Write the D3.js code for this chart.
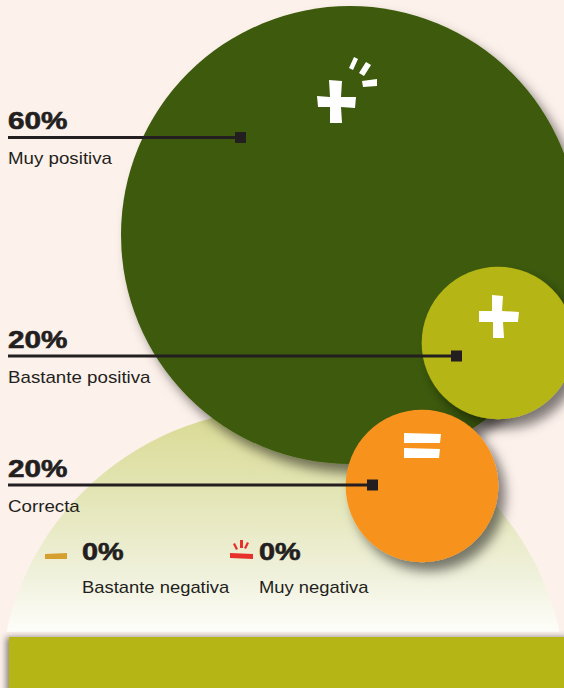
<!DOCTYPE html>
<html>
<head>
<meta charset="utf-8">
<script src="https://cdn.jsdelivr.net/npm/d3@7"></script>
<style>
  html, body { margin: 0; padding: 0; background: #fdf1eb; }
  svg { display: block; font-family: "Liberation Sans", Arial, sans-serif; }
</style>
</head>
<body>
<svg id="chart"></svg>
<script>
// Chart data
var categories = ["Muy positiva", "Bastante positiva", "Correcta", "Bastante negativa", "Muy negativa"];
var values = [60, 20, 20, 0, 0];
var valueLabels = ["60%", "20%", "20%", "0%", "0%"];

var width = 564, height = 688;
var svg = d3.select("#chart").attr("width", width).attr("height", height);

// Layout for the bubbles (only the non-zero categories get a bubble)
var bubbleLayout = [
    {cx: 350, cy: 235, color: "#3c5a0a", mx: 240.5, my: 137.5, labelY: 129},
    {cx: 498, cy: 343, color: "#b6b512", mx: 456.5, my: 356, labelY: 348},
    {cx: 422, cy: 486, color: "#f7931e", mx: 372.5, my: 485, labelY: 477}
];

var r = d3.scaleLinear().domain([0, 60]).range([0, 229]);

var defs = svg.append("defs");
var grad = defs.append("linearGradient").attr("id", "arcGrad")
    .attr("gradientUnits", "userSpaceOnUse")
    .attr("x1", 0).attr("y1", 410).attr("x2", 0).attr("y2", 632);
grad.append("stop").attr("offset", "0%").attr("stop-color", "#d9da92");
grad.append("stop").attr("offset", "40%").attr("stop-color", "#e4e6b8");
grad.append("stop").attr("offset", "75%").attr("stop-color", "#f0f1dc");
grad.append("stop").attr("offset", "100%").attr("stop-color", "#fefefa");

var shadow = defs.append("filter").attr("id", "shadow")
    .attr("x", "-30%").attr("y", "-30%").attr("width", "170%").attr("height", "170%");
shadow.append("feDropShadow").attr("dx", 7).attr("dy", 9).attr("stdDeviation", 6)
    .attr("flood-color", "#000").attr("flood-opacity", 0.5);

var barShadow = defs.append("filter").attr("id", "barShadow")
    .attr("x", "-5%").attr("y", "-20%").attr("width", "110%").attr("height", "140%");
barShadow.append("feDropShadow").attr("dx", -3).attr("dy", 0).attr("stdDeviation", 3)
    .attr("flood-color", "#000").attr("flood-opacity", 0.45);

// Pale background arch
defs.append("clipPath").attr("id", "archClip")
    .append("rect").attr("x", 0).attr("y", 0).attr("width", width).attr("height", 632);
svg.append("circle")
    .attr("cx", 283).attr("cy", 692).attr("r", 283)
    .attr("fill", "url(#arcGrad)")
    .attr("clip-path", "url(#archClip)");

// Bottom band
svg.append("rect")
    .attr("x", 9).attr("y", 637).attr("width", width).attr("height", 60)
    .attr("fill", "#b6b512")
    .attr("filter", "url(#barShadow)");

// Bubbles
var bubbles = bubbleLayout.map(function (d, i) {
    return Object.assign({value: values[i], label: valueLabels[i], name: categories[i]}, d);
});

svg.append("g")
    .selectAll("circle")
    .data(bubbles)
    .enter().append("circle")
    .attr("cx", function (d) {return d.cx;})
    .attr("cy", function (d) {return d.cy;})
    .attr("r", function (d) {return r(d.value);})
    .attr("fill", function (d) {return d.color;})
    .attr("filter", "url(#shadow)");

// Icons inside the bubbles
var icons = svg.append("g").attr("fill", "#fff");
// big plus with sparks
icons.append("path").attr("d",
    "M329,80 L342,81 L341,97 L356,97 L355,108 L341,107 L342,123 L330,123 L330,107 L318,107 L317,96 L330,97 Z");
icons.append("path").attr("d", "M349,68 L354,57 L358,59 L353,70 Z");
icons.append("path").attr("d", "M359,73 L366,62 L371,65 L364,76 Z");
icons.append("path").attr("d", "M362,81 L377,79 L377,86 L363,87 Z");
// small plus
icons.append("path").attr("d",
    "M492,295 L503,296 L502,311 L519,312 L518,322 L503,322 L504,338 L493,338 L493,322 L479,322 L479,311 L492,311 Z");
// equals
icons.append("path").attr("d", "M404,433 L441,434 L440,443 L404,443 Z");
icons.append("path").attr("d", "M404,448 L440,449 L439,458 L404,458 Z");

// Leader lines and markers
var text = "#231f20";
var leaders = svg.append("g");
leaders.selectAll("line")
    .data(bubbles)
    .enter().append("line")
    .attr("x1", 8).attr("x2", function (d) {return d.mx;})
    .attr("y1", function (d) {return d.my;}).attr("y2", function (d) {return d.my;})
    .attr("stroke", text).attr("stroke-width", 3);
leaders.selectAll("rect")
    .data(bubbles)
    .enter().append("rect")
    .attr("x", function (d) {return d.mx - 5.5;})
    .attr("y", function (d) {return d.my - 5.5;})
    .attr("width", 11).attr("height", 11)
    .attr("fill", text);

function addText(x, y, str, size, weight, sx) {
    svg.append("text")
        .attr("transform", "translate(" + x + "," + y + ") scale(" + sx + ",1)")
        .attr("fill", text)
        .style("font-size", size + "px")
        .style("font-weight", weight)
        .style("stroke", weight === "bold" ? text : "none")
        .style("stroke-width", weight === "bold" ? 0.6 : 0)
        .text(str);
}

bubbles.forEach(function (d) {
    addText(8, d.labelY, d.label, 24, "bold", 1.24);
    addText(8, d.labelY + 35, d.name, 16, "normal", 1.17);
});

// Zero-value legend entries
var zeroItems = [3, 4].map(function (i) {return {label: valueLabels[i], name: categories[i]};});
var legendX = [82, 259];
zeroItems.forEach(function (d, j) {
    addText(legendX[j], 560, d.label, 24, "bold", 1.2);
    addText(legendX[j], 593, d.name, 16, "normal", 1.15);
});

// Legend icons
svg.append("path").attr("d", "M45,554 L67,553 L67,559 L45,559 Z").attr("fill", "#d6a030");
var red = svg.append("g").attr("fill", "#e8302a");
red.append("path").attr("d", "M230,553 L253,554 L253,559 L230,558 Z");
red.append("path").attr("d", "M233,544 L235,543 L238,549 L236,550 Z");
red.append("path").attr("d", "M240,540 L243,540 L243,548 L240,548 Z");
red.append("path").attr("d", "M247,542 L249,543 L246,549 L244,548 Z");
</script>
</body>
</html>
